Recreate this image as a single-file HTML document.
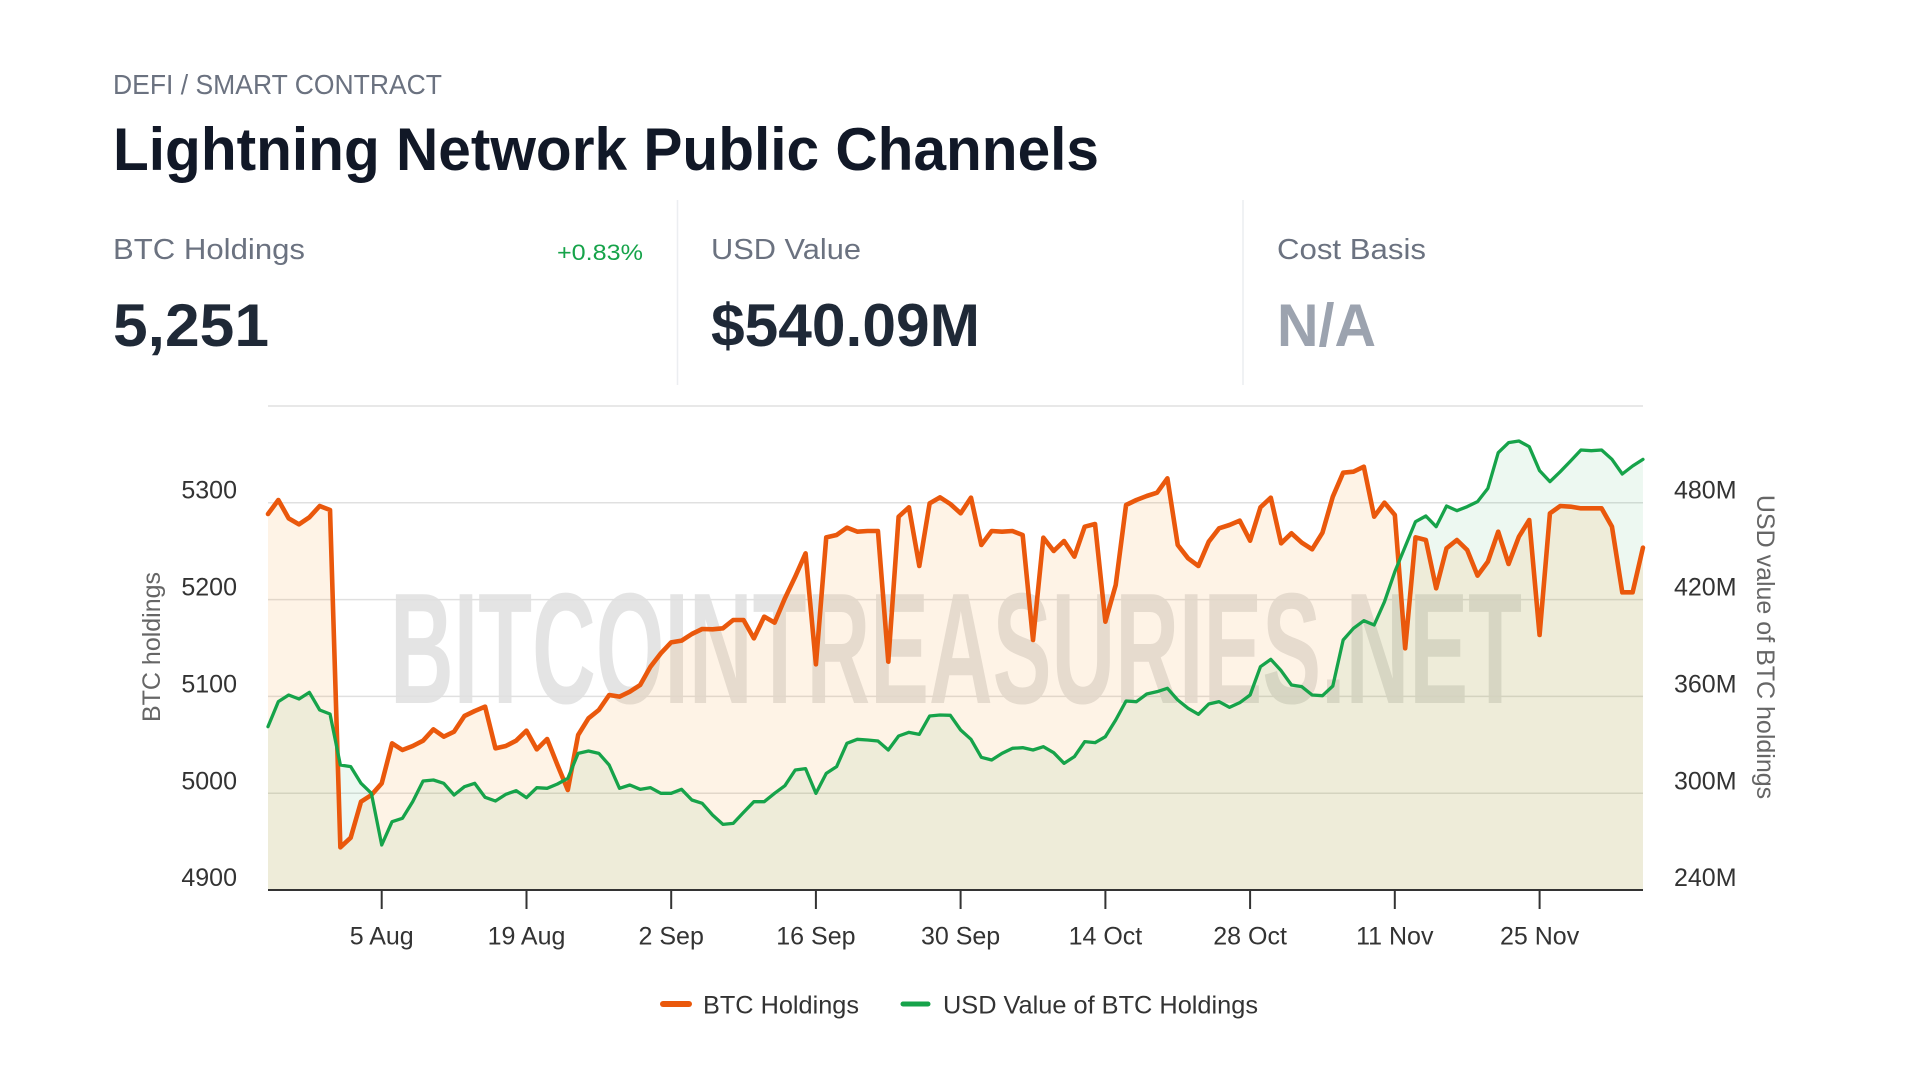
<!DOCTYPE html>
<html>
<head>
<meta charset="utf-8">
<style>
  html,body{margin:0;padding:0;background:#ffffff;}
  body{width:1920px;height:1080px;position:relative;overflow:hidden;}
  svg{position:absolute;left:0;top:0;}
</style>
</head>
<body>
<svg width="1920" height="1080" viewBox="0 0 1920 1080" font-family="'Liberation Sans', Arial, sans-serif">
  <!-- Header -->
  <text x="113" y="94" font-size="28" fill="#6b7280" textLength="329" lengthAdjust="spacingAndGlyphs">DEFI / SMART CONTRACT</text>
  <text x="113" y="170" font-size="60" font-weight="700" fill="#111827" textLength="986" lengthAdjust="spacingAndGlyphs">Lightning Network Public Channels</text>

  <!-- Stats -->
  <text x="113" y="259" font-size="29" fill="#6b7280" textLength="192" lengthAdjust="spacingAndGlyphs">BTC Holdings</text>
  <text x="643" y="260" font-size="22" fill="#16a34a" text-anchor="end" textLength="86" lengthAdjust="spacingAndGlyphs">+0.83%</text>
  <text x="113" y="346" font-size="60" font-weight="700" fill="#1f2937" textLength="156" lengthAdjust="spacingAndGlyphs">5,251</text>

  <line x1="677.5" y1="200" x2="677.5" y2="385" stroke="#eceef1" stroke-width="1.5"/>
  <text x="711" y="259" font-size="29" fill="#6b7280" textLength="150" lengthAdjust="spacingAndGlyphs">USD Value</text>
  <text x="711" y="346" font-size="60" font-weight="700" fill="#1f2937" textLength="269" lengthAdjust="spacingAndGlyphs">$540.09M</text>

  <line x1="1243" y1="200" x2="1243" y2="385" stroke="#eceef1" stroke-width="1.5"/>
  <text x="1277" y="259" font-size="29" fill="#6b7280" textLength="149" lengthAdjust="spacingAndGlyphs">Cost Basis</text>
  <text x="1277" y="346" font-size="60" font-weight="700" fill="#9ca3af" textLength="99" lengthAdjust="spacingAndGlyphs">N/A</text>

  <!-- Watermark -->
  <text x="390" y="703" font-size="158" font-weight="700" fill="#e4e4e4" textLength="1132" lengthAdjust="spacingAndGlyphs">BITCOINTREASURIES.NET</text>

  <!-- Gridlines -->
  <g stroke="#e0e0e0" stroke-width="1.5">
    <line x1="268" y1="406" x2="1643" y2="406"/>
    <line x1="268" y1="502.8" x2="1643" y2="502.8"/>
    <line x1="268" y1="599.6" x2="1643" y2="599.6"/>
    <line x1="268" y1="696.4" x2="1643" y2="696.4"/>
    <line x1="268" y1="793.2" x2="1643" y2="793.2"/>
  </g>

  <!-- Series -->
  <g transform="translate(268,400) scale(10.338,0.3333333)">
    <polygon fill="rgba(22,163,74,0.08)" points="0,980 1,905 2,885 3,897 4,877 5,930 6,942 7,1095 8,1100 9,1150 10,1180 11,1335 12,1265 13,1255 14,1205 15,1143 16,1140 17,1150 18,1185 19,1160 20,1150 21,1192 22,1203 23,1183 24,1172 25,1193 26,1163 27,1165 28,1152 29,1135 30,1060 31,1053 32,1060 33,1095 34,1165 35,1155 36,1168 37,1163 38,1180 39,1180 40,1168 41,1200 42,1210 43,1245 44,1273 45,1270 46,1237 47,1205 48,1205 49,1180 50,1157 51,1110 52,1106 53,1180 54,1120 55,1100 56,1030 57,1018 58,1020 59,1023 60,1050 61,1008 62,997 63,1003 64,948 65,945 66,946 67,990 68,1018 69,1072 70,1080 71,1060 72,1045 73,1043 74,1050 75,1040 76,1058 77,1090 78,1070 79,1025 80,1028 81,1010 82,960 83,903 84,905 85,882 86,875 87,865 88,900 89,925 90,943 91,912 92,905 93,922 94,908 95,885 96,800 97,778 98,812 99,855 100,860 101,885 102,887 103,858 104,720 105,685 106,662 107,675 108,605 109,515 110,440 111,365 112,348 113,380 114,318 115,332 116,320 117,305 118,265 119,158 120,128 121,123 122,140 123,212 124,245 125,215 126,183 127,150 128,152 129,150 130,178 131,222 132,198 133,178 133,1470 0,1470"/>
    <polygon fill="rgba(247,147,26,0.11)" points="0,342 1,300 2,355 3,373 4,352 5,318 6,330 7,1342 8,1313 9,1205 10,1185 11,1150 12,1030 13,1050 14,1038 15,1022 16,988 17,1010 18,995 19,948 20,933 21,920 22,1045 23,1038 24,1022 25,992 26,1048 27,1017 28,1095 29,1170 30,1005 31,955 32,930 33,885 34,890 35,875 36,855 37,800 38,760 39,727 40,722 41,702 42,687 43,688 44,685 45,660 46,660 47,715 48,650 49,668 50,595 51,530 52,460 53,793 54,412 55,405 56,383 57,395 58,393 59,393 60,785 61,350 62,322 63,498 64,310 65,292 66,312 67,340 68,293 69,435 70,393 71,395 72,393 73,405 74,720 75,413 76,453 77,423 78,470 79,380 80,372 81,665 82,555 83,315 84,300 85,288 86,278 87,235 88,435 89,475 90,498 91,425 92,385 93,375 94,362 95,422 96,322 97,293 98,430 99,400 100,428 101,448 102,398 103,290 104,218 105,215 106,200 107,350 108,308 109,345 110,745 111,412 112,420 113,565 114,445 115,420 116,450 117,527 118,485 119,395 120,492 121,410 122,360 123,705 124,340 125,318 126,320 127,325 128,325 129,325 130,380 131,577 132,577 133,443 133,1470 0,1470"/>
    <polyline fill="none" stroke="#ea580c" stroke-width="4.6" stroke-linejoin="round" stroke-linecap="round" vector-effect="non-scaling-stroke" points="0,342 1,300 2,355 3,373 4,352 5,318 6,330 7,1342 8,1313 9,1205 10,1185 11,1150 12,1030 13,1050 14,1038 15,1022 16,988 17,1010 18,995 19,948 20,933 21,920 22,1045 23,1038 24,1022 25,992 26,1048 27,1017 28,1095 29,1170 30,1005 31,955 32,930 33,885 34,890 35,875 36,855 37,800 38,760 39,727 40,722 41,702 42,687 43,688 44,685 45,660 46,660 47,715 48,650 49,668 50,595 51,530 52,460 53,793 54,412 55,405 56,383 57,395 58,393 59,393 60,785 61,350 62,322 63,498 64,310 65,292 66,312 67,340 68,293 69,435 70,393 71,395 72,393 73,405 74,720 75,413 76,453 77,423 78,470 79,380 80,372 81,665 82,555 83,315 84,300 85,288 86,278 87,235 88,435 89,475 90,498 91,425 92,385 93,375 94,362 95,422 96,322 97,293 98,430 99,400 100,428 101,448 102,398 103,290 104,218 105,215 106,200 107,350 108,308 109,345 110,745 111,412 112,420 113,565 114,445 115,420 116,450 117,527 118,485 119,395 120,492 121,410 122,360 123,705 124,340 125,318 126,320 127,325 128,325 129,325 130,380 131,577 132,577 133,443"/>
    <polyline fill="none" stroke="#16a34a" stroke-width="3.3" stroke-linejoin="round" stroke-linecap="round" vector-effect="non-scaling-stroke" points="0,980 1,905 2,885 3,897 4,877 5,930 6,942 7,1095 8,1100 9,1150 10,1180 11,1335 12,1265 13,1255 14,1205 15,1143 16,1140 17,1150 18,1185 19,1160 20,1150 21,1192 22,1203 23,1183 24,1172 25,1193 26,1163 27,1165 28,1152 29,1135 30,1060 31,1053 32,1060 33,1095 34,1165 35,1155 36,1168 37,1163 38,1180 39,1180 40,1168 41,1200 42,1210 43,1245 44,1273 45,1270 46,1237 47,1205 48,1205 49,1180 50,1157 51,1110 52,1106 53,1180 54,1120 55,1100 56,1030 57,1018 58,1020 59,1023 60,1050 61,1008 62,997 63,1003 64,948 65,945 66,946 67,990 68,1018 69,1072 70,1080 71,1060 72,1045 73,1043 74,1050 75,1040 76,1058 77,1090 78,1070 79,1025 80,1028 81,1010 82,960 83,903 84,905 85,882 86,875 87,865 88,900 89,925 90,943 91,912 92,905 93,922 94,908 95,885 96,800 97,778 98,812 99,855 100,860 101,885 102,887 103,858 104,720 105,685 106,662 107,675 108,605 109,515 110,440 111,365 112,348 113,380 114,318 115,332 116,320 117,305 118,265 119,158 120,128 121,123 122,140 123,212 124,245 125,215 126,183 127,150 128,152 129,150 130,178 131,222 132,198 133,178"/>
  </g>

  <!-- X axis -->
  <line x1="268" y1="890" x2="1643" y2="890" stroke="#333333" stroke-width="2"/>
  <g stroke="#333333" stroke-width="2">
    <line x1="381.7" y1="890" x2="381.7" y2="909"/>
    <line x1="526.5" y1="890" x2="526.5" y2="909"/>
    <line x1="671.2" y1="890" x2="671.2" y2="909"/>
    <line x1="815.9" y1="890" x2="815.9" y2="909"/>
    <line x1="960.6" y1="890" x2="960.6" y2="909"/>
    <line x1="1105.4" y1="890" x2="1105.4" y2="909"/>
    <line x1="1250.1" y1="890" x2="1250.1" y2="909"/>
    <line x1="1394.8" y1="890" x2="1394.8" y2="909"/>
    <line x1="1539.6" y1="890" x2="1539.6" y2="909"/>
  </g>
  <g font-size="25" fill="#333333" text-anchor="middle">
    <text x="381.7" y="944.3">5 Aug</text>
    <text x="526.5" y="944.3">19 Aug</text>
    <text x="671.2" y="944.3">2 Sep</text>
    <text x="815.9" y="944.3">16 Sep</text>
    <text x="960.6" y="944.3">30 Sep</text>
    <text x="1105.4" y="944.3">14 Oct</text>
    <text x="1250.1" y="944.3">28 Oct</text>
    <text x="1394.8" y="944.3">11 Nov</text>
    <text x="1539.6" y="944.3">25 Nov</text>
  </g>

  <!-- Left axis labels -->
  <g font-size="25" fill="#333333" text-anchor="end">
    <text x="237" y="498.5">5300</text>
    <text x="237" y="595.5">5200</text>
    <text x="237" y="692.3">5100</text>
    <text x="237" y="789.5">5000</text>
    <text x="237" y="886">4900</text>
  </g>
  <!-- Right axis labels -->
  <g font-size="25" fill="#333333" text-anchor="start">
    <text x="1674" y="498.5">480M</text>
    <text x="1674" y="595.5">420M</text>
    <text x="1674" y="692.3">360M</text>
    <text x="1674" y="789.5">300M</text>
    <text x="1674" y="886">240M</text>
  </g>

  <!-- Axis titles -->
  <text transform="translate(160,647) rotate(-90)" text-anchor="middle" font-size="25" fill="#666666">BTC holdings</text>
  <text transform="translate(1757,647) rotate(90)" text-anchor="middle" font-size="25" fill="#666666">USD value of BTC holdings</text>

  <!-- Legend -->
  <line x1="663" y1="1004" x2="689" y2="1004" stroke="#ea580c" stroke-width="6" stroke-linecap="round"/>
  <text x="703" y="1013.3" font-size="25" fill="#333333" textLength="156" lengthAdjust="spacingAndGlyphs">BTC Holdings</text>
  <line x1="903" y1="1004" x2="928" y2="1004" stroke="#16a34a" stroke-width="5" stroke-linecap="round"/>
  <text x="943" y="1013.3" font-size="25" fill="#333333" textLength="315" lengthAdjust="spacingAndGlyphs">USD Value of BTC Holdings</text>
</svg>
</body>
</html>
